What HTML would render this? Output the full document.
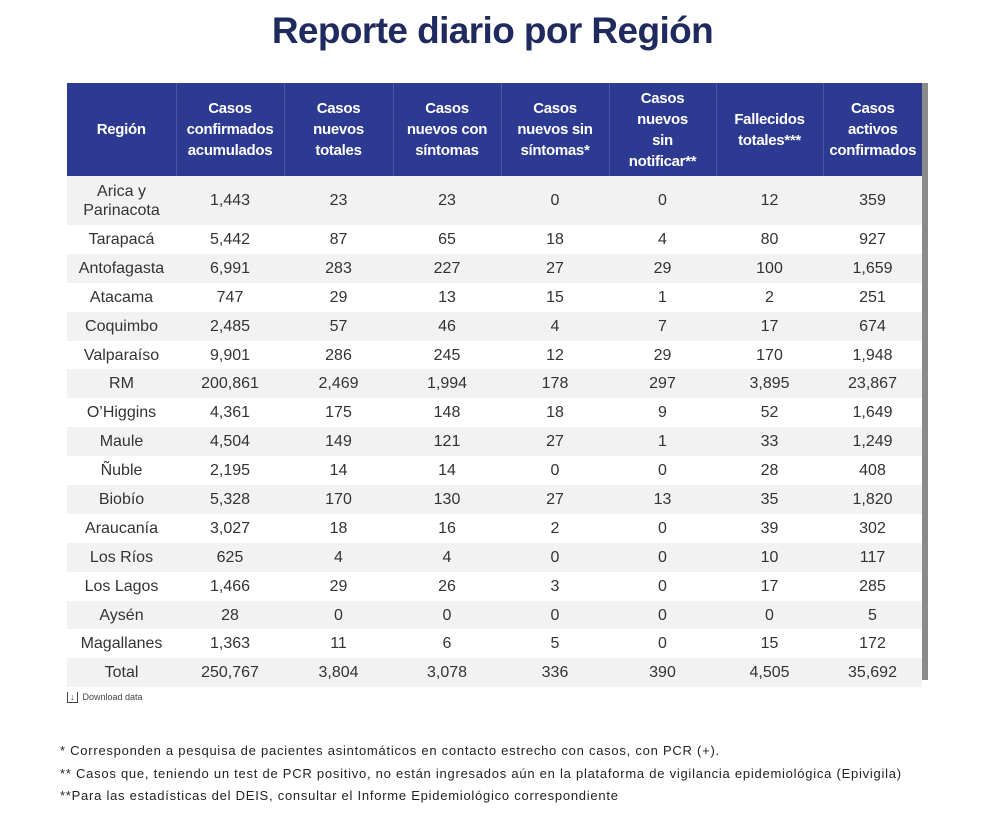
<!DOCTYPE html>
<html><head><meta charset="utf-8"><style>
body{margin:0;width:999px;height:822px;background:#fff;font-family:"Liberation Sans",sans-serif;position:relative;overflow:hidden}
h1{position:absolute;top:10px;left:0;width:985px;text-align:center;margin:0;font-size:37px;color:#1f2a5e;font-weight:bold;letter-spacing:-0.6px}
table{position:absolute;left:67px;top:83px;border-collapse:collapse;table-layout:fixed;width:855px}
th{background:#2c3a92;color:#fff;font-size:15px;font-weight:bold;height:93px;padding:0;border-left:1px solid #4a57a8;line-height:21px;letter-spacing:-0.3px}
th:first-child{border-left:none}
td{text-align:center;font-size:16px;color:#333;height:28.9px;padding:0;line-height:19px}
tr.g td{background:#f2f2f2}
.sb{position:absolute;left:922px;top:83px;width:6px;height:597px;background:#8a8a8a}
.dl{position:absolute;left:67px;top:692px;font-size:9px;color:#444}
.fn{position:absolute;left:60px;font-size:13px;color:#222;letter-spacing:0.75px}
</style></head><body>
<h1>Reporte diario por Región</h1>
<table>
<colgroup><col style="width:109px"><col style="width:108px"><col style="width:109px"><col style="width:108px"><col style="width:108px"><col style="width:107px"><col style="width:107px"><col style="width:99px"></colgroup>
<tr><th>Región</th><th>Casos<br>confirmados<br>acumulados</th><th>Casos<br>nuevos<br>totales</th><th>Casos<br>nuevos con<br>síntomas</th><th>Casos<br>nuevos sin<br>síntomas*</th><th>Casos<br>nuevos<br>sin<br>notificar**</th><th>Fallecidos<br>totales***</th><th style="white-space:nowrap;overflow:hidden">Casos<br>activos<br>confirmados</th></tr>
<tr class="g"><td style="height:49px">Arica y<br>Parinacota</td><td>1,443</td><td>23</td><td>23</td><td>0</td><td>0</td><td>12</td><td>359</td></tr>
<tr><td>Tarapacá</td><td>5,442</td><td>87</td><td>65</td><td>18</td><td>4</td><td>80</td><td>927</td></tr>
<tr class="g"><td>Antofagasta</td><td>6,991</td><td>283</td><td>227</td><td>27</td><td>29</td><td>100</td><td>1,659</td></tr>
<tr><td>Atacama</td><td>747</td><td>29</td><td>13</td><td>15</td><td>1</td><td>2</td><td>251</td></tr>
<tr class="g"><td>Coquimbo</td><td>2,485</td><td>57</td><td>46</td><td>4</td><td>7</td><td>17</td><td>674</td></tr>
<tr><td>Valparaíso</td><td>9,901</td><td>286</td><td>245</td><td>12</td><td>29</td><td>170</td><td>1,948</td></tr>
<tr class="g"><td>RM</td><td>200,861</td><td>2,469</td><td>1,994</td><td>178</td><td>297</td><td>3,895</td><td>23,867</td></tr>
<tr><td>O’Higgins</td><td>4,361</td><td>175</td><td>148</td><td>18</td><td>9</td><td>52</td><td>1,649</td></tr>
<tr class="g"><td>Maule</td><td>4,504</td><td>149</td><td>121</td><td>27</td><td>1</td><td>33</td><td>1,249</td></tr>
<tr><td>Ñuble</td><td>2,195</td><td>14</td><td>14</td><td>0</td><td>0</td><td>28</td><td>408</td></tr>
<tr class="g"><td>Biobío</td><td>5,328</td><td>170</td><td>130</td><td>27</td><td>13</td><td>35</td><td>1,820</td></tr>
<tr><td>Araucanía</td><td>3,027</td><td>18</td><td>16</td><td>2</td><td>0</td><td>39</td><td>302</td></tr>
<tr class="g"><td>Los Ríos</td><td>625</td><td>4</td><td>4</td><td>0</td><td>0</td><td>10</td><td>117</td></tr>
<tr><td>Los Lagos</td><td>1,466</td><td>29</td><td>26</td><td>3</td><td>0</td><td>17</td><td>285</td></tr>
<tr class="g"><td>Aysén</td><td>28</td><td>0</td><td>0</td><td>0</td><td>0</td><td>0</td><td>5</td></tr>
<tr><td>Magallanes</td><td>1,363</td><td>11</td><td>6</td><td>5</td><td>0</td><td>15</td><td>172</td></tr>
<tr class="g"><td>Total</td><td>250,767</td><td>3,804</td><td>3,078</td><td>336</td><td>390</td><td>4,505</td><td>35,692</td></tr>
</table>
<div class="sb"></div>
<div class="dl"><span style="border:1px solid #444;border-top:none;padding:0 2px;font-size:9px">↓</span>&nbsp;&nbsp;Download data</div>
<div class="fn" style="top:743px">* Corresponden a pesquisa de pacientes asintomáticos en contacto estrecho con casos, con PCR (+).</div>
<div class="fn" style="top:766px">** Casos que, teniendo un test de PCR positivo, no están ingresados aún en la plataforma de vigilancia epidemiológica (Epivigila)</div>
<div class="fn" style="top:788px">**Para las estadísticas del DEIS, consultar el Informe Epidemiológico correspondiente</div>
</body></html>
